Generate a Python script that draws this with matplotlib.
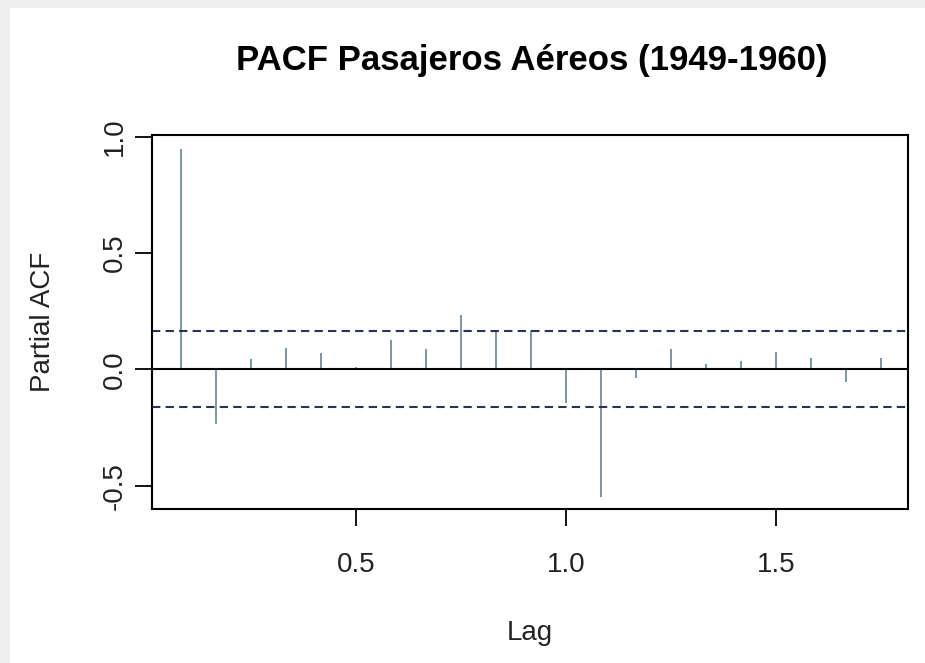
import numpy as np
import matplotlib.pyplot as plt
from matplotlib.patches import Rectangle

plt.rcParams['font.family'] = ['Liberation Sans', 'DejaVu Sans']

# PACF values, lags 1..21 months
lag_months = list(range(1, 22))
pacf_vals = [0.945, -0.235, 0.043, 0.093, 0.072, 0.011, 0.126, 0.087, 0.233, 0.160, 0.169,
             -0.143, -0.547, -0.036, 0.086, 0.024, 0.034, 0.073, 0.049, -0.053, 0.050]
conf = 0.1633
xticks = [0.5, 1.0, 1.5]
yticks = [-0.5, 0.0, 0.5, 1.0]

lags = np.array(lag_months) / 12.0

fig = plt.figure(figsize=(9.25, 6.63), dpi=100)
fig.patch.set_facecolor('#efefef')
# white page area (screenshot frame)
fig.patches.append(Rectangle((10 / 925, 0), 1, 1 - 8 / 663, transform=fig.transFigure,
                             facecolor='white', edgecolor='none', zorder=-5))

ax = fig.add_axes([0.164, 0.2318, 0.9813 - 0.164, 0.796 - 0.2318])
ax.vlines(lags, 0, pacf_vals, color='#6f8d9e', lw=1.3)
ax.axhline(0, color='black', lw=1.5)
ax.axhline(conf, color='#2b3352', lw=1.5, ls=(0, (4, 2.5)))
ax.axhline(-conf, color='#2b3352', lw=1.5, ls=(0, (4, 2.5)))

ax.set_xlim(0.0143, 1.814)
ax.set_ylim(-0.602, 1.006)
ax.set_xticks(xticks)
ax.set_xticklabels([f'{t:.1f}' for t in xticks])
ax.set_yticks(yticks)
ax.set_yticklabels([f'{t:.1f}' for t in yticks], rotation=90, va='center')
ax.tick_params(direction='out', length=12, width=1.3, labelsize=20, labelcolor='#222222')
ax.tick_params(axis='x', pad=19)
ax.tick_params(axis='y', pad=5)
for s in ax.spines.values():
    s.set_linewidth(1.5)

ax.set_xlabel('Lag', fontsize=20, labelpad=30, color='#222222')
ax.set_ylabel('Partial ACF', fontsize=20, labelpad=33, color='#222222')
fig.text(0.5746, 0.908, 'PACF Pasajeros Aéreos (1949-1960)', ha='center', va='center',
         fontsize=25, fontweight='bold')

fig.savefig('out.png', dpi=100)
